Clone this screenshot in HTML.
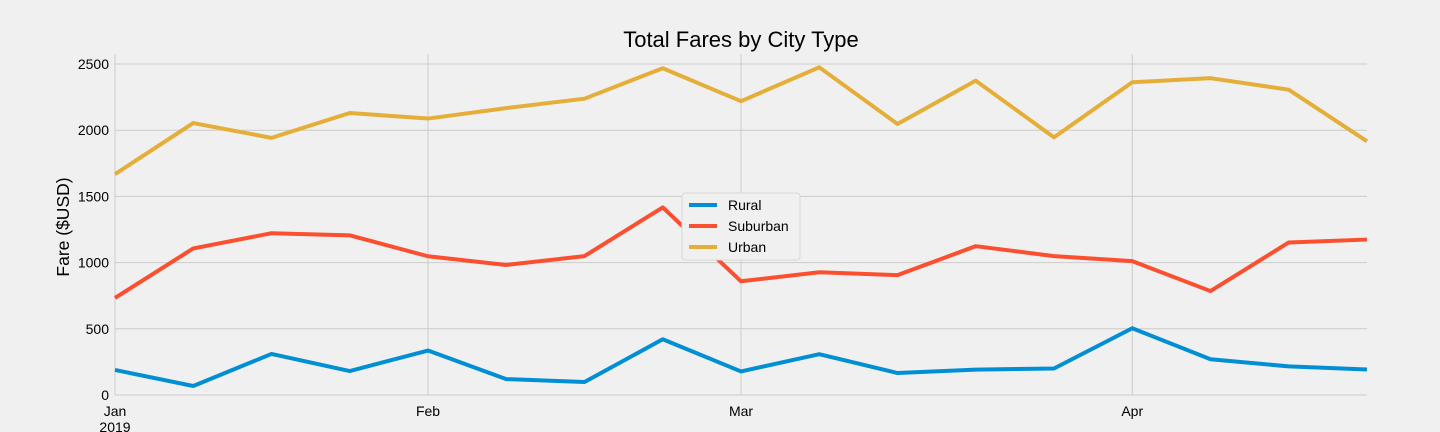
<!DOCTYPE html>
<html><head><meta charset="utf-8"><style>
body{margin:0;background:#f0f0f0;}
svg{display:block;font-family:"Liberation Sans","DejaVu Sans",sans-serif;}
</style></head><body>
<svg id="chart" width="1440" height="432">
<rect width="1440" height="432" fill="#f0f0f0"/>
<text x="741" y="47" text-anchor="middle" font-size="22" fill="#000">Total Fares by City Type</text>
<text transform="translate(69,227) rotate(-90)" text-anchor="middle" font-size="17.5" fill="#000">Fare ($USD)</text>
<g id="grid"></g><g id="axes"></g><g id="lines"></g><g id="legend"></g>
</svg>
<script>
const weeks = 17;
const monthTickIndex = [0, 4, 8, 13];
const monthTickLabels = ["Jan", "Feb", "Mar", "Apr"];
const yTicks = [0, 500, 1000, 1500, 2000, 2500];
const seriesNames = ["Rural", "Suburban", "Urban"];
const rural = [189, 68, 310, 181, 336, 120, 98, 421, 178, 308, 166, 192, 200, 504, 270, 216, 193];
const suburban = [733, 1107, 1222, 1206, 1048, 982, 1049, 1417, 859, 927, 905, 1124, 1049, 1011, 785, 1152, 1174];
const urban = [1668, 2054, 1942, 2130, 2088, 2167, 2238, 2468, 2219, 2475, 2047, 2374, 1946, 2362, 2393, 2306, 1916];
const colors = ["#008fd5", "#fc4f30", "#e5ae38"];
const NS = "http://www.w3.org/2000/svg";
const x0 = 115, x1 = 1367, yBase = 395, yTop = 64;
const xs = i => x0 + (x1 - x0) * i / (weeks - 1);
const ys = v => yBase - (yBase - yTop) * v / 2500;
function mk(tag, attrs, parent) { const e = document.createElementNS(NS, tag); for (const k in attrs) e.setAttribute(k, attrs[k]); parent.appendChild(e); return e; }
const grid = document.getElementById("grid"), axes = document.getElementById("axes"), lines = document.getElementById("lines"), legend = document.getElementById("legend");
yTicks.forEach(t => {
  const l = mk("line", {x1: x0, x2: x1, y1: ys(t), y2: ys(t), stroke: "#cbcbcb", "stroke-width": 1}, grid);
  
  
  const tx = mk("text", {x: 109, y: ys(t) + 5, "text-anchor": "end", "font-size": 14}, axes);
  
  
  tx.textContent = t;
});
monthTickIndex.forEach((idx, k) => {
  const l = mk("line", {x1: xs(idx), x2: xs(idx), y1: 54, y2: yBase, stroke: "#cbcbcb", "stroke-width": 1}, grid);
  
  
  const tx = mk("text", {x: xs(idx), y: 416, "text-anchor": "middle", "font-size": 14}, axes);
  
  
  tx.textContent = monthTickLabels[k];
});
const yr = mk("text", {x: xs(0), y: 432, "text-anchor": "middle", "font-size": 14}, axes);


yr.textContent = "2019";
[rural, suburban, urban].forEach((s, k) => {
  const p = mk("polyline", {points: s.map((v, i) => xs(i) + "," + ys(v)).join(" "), fill: "none", stroke: colors[k], "stroke-width": 4, "stroke-linejoin": "round"}, lines);
  
  
});
const box = mk("rect", {x: 682, y: 193, width: 118, height: 67, fill: "#f0f0f0", stroke: "#d8d8d8", rx: 3}, legend);


seriesNames.forEach((n, k) => {
  const yy = 205 + k * 21;
  const l = mk("line", {x1: 689, x2: 717, y1: yy, y2: yy, stroke: colors[k], "stroke-width": 4}, legend);
  
  
  const t = mk("text", {x: 728, y: yy + 5, "font-size": 14}, legend);
  
  
  t.textContent = n;
});
</script>
</body></html>
